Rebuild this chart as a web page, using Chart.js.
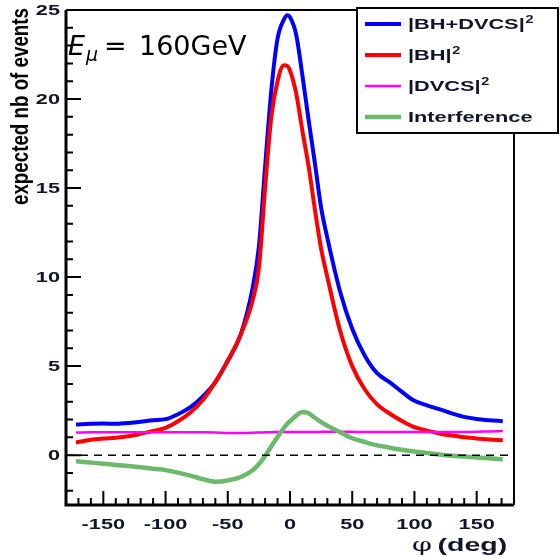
<!DOCTYPE html>
<html>
<head>
<meta charset="utf-8">
<script src="https://cdn.jsdelivr.net/npm/chart.js@4/dist/chart.umd.min.js"></script>
<style>
    html, body { margin: 0; padding: 0; background: #fff; }
    #wrap { width: 560px; height: 557px; position: relative; }
</style>
</head>
<body>
<div id="wrap"><canvas id="lineChart"></canvas></div>
<script>
var phi = [-172, -160, -150, -140, -130, -120, -110, -100, -90, -80, -70, -60, -50, -40, -30, -25, -20, -15, -10, -5, -2, 0,
    5, 10, 15, 20, 25, 30, 40, 50, 60, 70, 80, 90, 100, 110, 120, 130, 140, 150, 160, 171];
var bhDvcs = [1.72, 1.76, 1.78, 1.76, 1.80, 1.88, 1.96, 2.02, 2.30, 2.70, 3.30, 4.10, 5.30, 6.70, 9.40, 11.7, 16.2, 20.5, 23.4, 24.45, 24.7, 24.6,
    23.6, 21.3, 18.8, 16.4, 13.9, 12.2, 9.25, 7.1, 5.6, 4.6, 4.1, 3.55, 3.05, 2.8, 2.58, 2.35, 2.15, 2.03, 1.96, 1.91];
var bh = [0.71, 0.86, 0.93, 0.98, 1.06, 1.20, 1.36, 1.53, 1.90, 2.40, 3.10, 4.10, 5.30, 6.70, 8.70, 10.5, 15.0, 19.0, 21.0, 21.9, 21.85, 21.6,
    20.3, 18.2, 16.2, 13.8, 11.6, 10.0, 7.06, 5.0, 3.7, 2.85, 2.34, 1.92, 1.57, 1.38, 1.22, 1.10, 1.00, 0.94, 0.88, 0.84];
var dvcs = [1.27, 1.28, 1.28, 1.28, 1.28, 1.28, 1.28, 1.28, 1.28, 1.28, 1.28, 1.27, 1.25, 1.25, 1.26, 1.27, 1.28, 1.29, 1.30, 1.30, 1.30, 1.30,
    1.30, 1.30, 1.30, 1.30, 1.31, 1.32, 1.32, 1.31, 1.30, 1.30, 1.30, 1.30, 1.30, 1.30, 1.30, 1.30, 1.30, 1.31, 1.33, 1.35];
var interf = [-0.34, -0.42, -0.48, -0.55, -0.61, -0.68, -0.76, -0.84, -0.98, -1.15, -1.35, -1.49, -1.42, -1.24, -0.85, -0.50, -0.05, 0.50, 1.02, 1.52, 1.78, 1.90,
    2.22, 2.42, 2.35, 2.10, 1.85, 1.65, 1.30, 0.95, 0.74, 0.55, 0.42, 0.30, 0.20, 0.12, 0.04, -0.03, -0.08, -0.13, -0.18, -0.24];

var xLabels = [-150, -100, -50, 0, 50, 100, 150];
var yLabels = [0, 5, 10, 15, 20, 25];

function pts(vals) {
    return phi.map(function (p, i) { return { x: p, y: vals[i] }; });
}

var tickFont = 'bold 14px "Liberation Sans", Arial, sans-serif';
var ink = '#141428';

// ROOT style axes, ticks inside the frame, plus the legend box
var framePlugin = {
    id: 'frame',
    afterDatasetsDraw: function (chart) {
        var ctx = chart.ctx;
        var a = chart.chartArea;
        var xs = chart.scales.x, ys = chart.scales.y;
        ctx.save();

        // dashed zero line
        ctx.strokeStyle = '#000';
        ctx.lineWidth = 1.5;
        ctx.setLineDash([8, 6]);
        ctx.beginPath();
        ctx.moveTo(a.left, ys.getPixelForValue(0));
        ctx.lineTo(a.right, ys.getPixelForValue(0));
        ctx.stroke();
        ctx.setLineDash([]);

        // frame
        ctx.lineWidth = 2;
        ctx.beginPath();
        ctx.moveTo(a.left, a.top); ctx.lineTo(a.right, a.top); ctx.lineTo(a.right, a.bottom);
        ctx.stroke();
        ctx.lineWidth = 3;
        ctx.beginPath();
        ctx.moveTo(a.left, a.top); ctx.lineTo(a.left, a.bottom); ctx.lineTo(a.right, a.bottom);
        ctx.stroke();

        // ticks
        ctx.lineWidth = 2;
        ctx.beginPath();
        for (var v = -2; v <= 25; v++) {
            var py = ys.getPixelForValue(v);
            ctx.moveTo(a.left, py);
            ctx.lineTo(a.left + (v % 5 === 0 ? 15 : 7), py);
        }
        for (var d = -180; d <= 180; d += 10) {
            var px = xs.getPixelForValue(d);
            ctx.moveTo(px, a.bottom);
            ctx.lineTo(px, a.bottom - (d % 50 === 0 ? 14 : 7));
        }
        ctx.stroke();

        // tick labels (the original is stretched sideways)
        ctx.fillStyle = ink;
        ctx.font = tickFont;
        ctx.textBaseline = 'middle';
        ctx.textAlign = 'right';
        yLabels.forEach(function (v) {
            ctx.save();
            ctx.translate(60, ys.getPixelForValue(v) + 1);
            ctx.scale(1.55, 1);
            ctx.fillText(String(v), 0, 0);
            ctx.restore();
        });
        ctx.textAlign = 'center';
        xLabels.forEach(function (v) {
            ctx.save();
            ctx.translate(xs.getPixelForValue(v), 525);
            ctx.scale(1.55, 1);
            ctx.fillText(String(v), 0, 0);
            ctx.restore();
        });

        // axis titles
        ctx.save();
        ctx.translate(28, 205);
        ctx.rotate(-Math.PI / 2);
        ctx.font = 'bold 19px "Liberation Sans", Arial, sans-serif';
        ctx.textAlign = 'left';
        ctx.textBaseline = 'alphabetic';
        var yt = 'expected nb of events';
        ctx.scale(197 / ctx.measureText(yt).width, 1.3);
        ctx.fillStyle = '#000';
        ctx.fillText(yt, 0, 0);
        ctx.restore();

        ctx.save();
        ctx.fillStyle = ink;
        ctx.textAlign = 'left';
        ctx.textBaseline = 'alphabetic';
        ctx.translate(412, 551);
        ctx.scale(1.5, 1);
        ctx.font = '19px "DejaVu Serif", serif';
        ctx.fillText('\u03c6', 0, 0);
        ctx.font = 'bold 19px "Liberation Sans", Arial, sans-serif';
        ctx.fillText('(deg)', 17, 0);
        ctx.restore();

        // beam energy note
        ctx.fillStyle = '#000';
        ctx.textAlign = 'left';
        ctx.textBaseline = 'alphabetic';
        ctx.font = 'italic 27px "DejaVu Sans", sans-serif';
        ctx.fillText('E', 68, 55);
        ctx.font = 'italic 19px "DejaVu Sans", sans-serif';
        ctx.fillText('\u03bc', 86, 61);
        ctx.font = '27px "DejaVu Sans", sans-serif';
        ctx.fillText('=', 104, 55);
        ctx.fillText('160GeV', 139, 55);

        // legend
        ctx.fillStyle = '#fff';
        ctx.fillRect(357, 8, 201, 125);
        ctx.strokeStyle = '#000';
        ctx.lineWidth = 2;
        ctx.strokeRect(357, 8, 201, 125);
        var rowY = [24, 55, 86, 117];
        chart.data.datasets.forEach(function (ds, i) {
            ctx.strokeStyle = ds.borderColor;
            ctx.lineWidth = ds.borderWidth;
            ctx.beginPath();
            ctx.moveTo(365, rowY[i]);
            ctx.lineTo(401, rowY[i]);
            ctx.stroke();
            ctx.save();
            ctx.fillStyle = ink;
            ctx.font = 'bold 15px "Liberation Sans", Arial, sans-serif';
            ctx.textBaseline = 'middle';
            ctx.translate(408, rowY[i] + 1);
            ctx.scale(1.45, 1);
            var txt = ds.label, sup = '';
            if (txt.slice(-1) === '\u00b2') { sup = '2'; txt = txt.slice(0, -1); }
            ctx.fillText(txt, 0, 0);
            if (sup) {
                var w = ctx.measureText(txt).width;
                ctx.font = 'bold 10px "Liberation Sans", Arial, sans-serif';
                ctx.fillText(sup, w + 0.5, -5);
            }
            ctx.restore();
        });

        ctx.restore();
    }
};

var lineData = {
    datasets: [
        { label: '|BH+DVCS|\u00b2', data: pts(bhDvcs), borderColor: '#0000ff', borderWidth: 4, order: 4 },
        { label: '|BH|\u00b2', data: pts(bh), borderColor: '#ff0000', borderWidth: 4, order: 3 },
        { label: '|DVCS|\u00b2', data: pts(dvcs), borderColor: '#ff00ff', borderWidth: 2.5, order: 2 },
        { label: 'Interference', data: pts(interf), borderColor: '#6cb86c', borderWidth: 4.5, order: 1 }
    ]
};

var lineOptions = {
    responsive: true,
    maintainAspectRatio: false,
    animation: false,
    layout: { padding: { left: 66, top: 10, right: 46, bottom: 52 } },
    elements: {
        point: { radius: 0 },
        line: { cubicInterpolationMode: 'monotone', fill: false }
    },
    plugins: { legend: { display: false }, tooltip: { enabled: false } },
    scales: {
        x: { type: 'linear', min: -180, max: 180, display: false },
        y: { type: 'linear', min: -2.8, max: 25, display: false }
    }
};

var ctx = document.getElementById('lineChart');
new Chart(ctx, { type: 'line', data: lineData, options: lineOptions, plugins: [framePlugin] });
</script>
</body>
</html>
